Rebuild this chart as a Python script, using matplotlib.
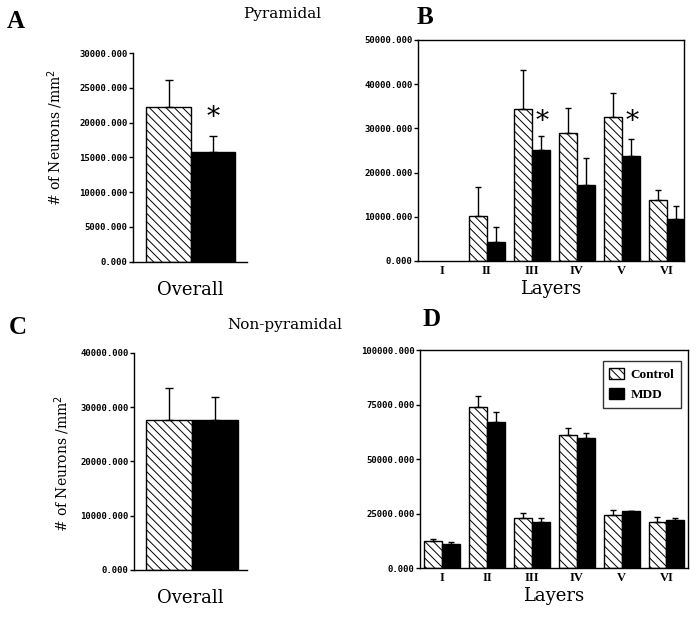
import numpy as np
import matplotlib.pyplot as plt
from matplotlib.ticker import FormatStrFormatter

# DATOS
capas = ['I', 'II', 'III', 'IV', 'V', 'VI']

# A: piramidales, total
pir_total_ctrl = 22200
pir_total_ctrl_err = 3900
pir_total_mdd = 15700
pir_total_mdd_err = 2400

# B: piramidales por capa
pir_ctrl = [0, 10200, 34400, 29000, 32500, 13700]
pir_ctrl_err = [0, 6600, 8800, 5700, 5400, 2400]
pir_mdd = [0, 4200, 25100, 17200, 23800, 9500]
pir_mdd_err = [0, 3600, 3200, 6200, 3700, 3000]

# C: no piramidales, total
nopir_total_ctrl = 27600
nopir_total_ctrl_err = 5900
nopir_total_mdd = 27600
nopir_total_mdd_err = 4300

# D: no piramidales por capa
nopir_ctrl = [12500, 73700, 22900, 61200, 24400, 21100]
nopir_ctrl_err = [1100, 5400, 2600, 3200, 2200, 2300]
nopir_mdd = [11300, 67200, 21100, 59500, 26100, 22100]
nopir_mdd_err = [900, 4400, 1900, 2600, 300, 1100]

serif = 'DejaVu Serif'
mono = {'family': 'DejaVu Sans Mono', 'weight': 'bold', 'size': 6.5}

fig = plt.figure(figsize=(6.97, 6.17), dpi=100)
plt.rcParams['hatch.linewidth'] = 0.7


def ejes(ax, ymax, paso, caja):
    ax.set_ylim(0, ymax)
    ax.set_yticks(np.arange(0, ymax + 1, paso))
    ax.yaxis.set_major_formatter(FormatStrFormatter('%.3f'))
    for t in ax.get_yticklabels():
        t.set_fontfamily(mono['family'])
        t.set_fontweight(mono['weight'])
        t.set_fontsize(mono['size'])
    ax.tick_params(axis='y', length=3, width=1, pad=1)
    ax.tick_params(axis='x', length=0)
    for s in ax.spines.values():
        s.set_linewidth(1)
    if not caja:
        ax.spines['top'].set_visible(False)
        ax.spines['right'].set_visible(False)


def total(ax, c, ce, m, me, ymax, paso, xlim):
    ax.bar(-0.5, c, 1.0, color='white', edgecolor='black', hatch='\\\\\\\\', lw=1)
    ax.bar(0.5, m, 1.0, color='black', edgecolor='black', lw=1)
    ax.errorbar([-0.5, 0.5], [c, m], yerr=[[0, 0], [ce, me]], fmt='none',
                ecolor='black', elinewidth=1, capsize=3, capthick=1)
    ax.set_xlim(*xlim)
    ax.set_xticks([])
    ejes(ax, ymax, paso, False)
    ax.set_xlabel('Overall', family=serif, fontsize=13, labelpad=14)


def capas_plot(ax, c, ce, m, me, ymax, paso, xlim):
    x = np.arange(len(capas))
    c, ce, m, me = map(np.array, (c, ce, m, me))
    w = 0.4
    # capas sin datos (valor 0) no se dibujan
    k = c > 0
    ax.bar(x[k] - w/2, c[k], w, color='white', edgecolor='black', hatch='\\\\\\\\',
           lw=1, label='Control')
    ax.errorbar(x[k] - w/2, c[k], yerr=[np.zeros(k.sum()), ce[k]], fmt='none',
                ecolor='black', elinewidth=1, capsize=2.5, capthick=1)
    k = m > 0
    ax.bar(x[k] + w/2, m[k], w, color='black', edgecolor='black', lw=1, label='MDD')
    ax.errorbar(x[k] + w/2, m[k], yerr=[np.zeros(k.sum()), me[k]], fmt='none',
                ecolor='black', elinewidth=1, capsize=2.5, capthick=1)
    ax.set_xlim(*xlim)
    ax.set_xticks(x)
    ax.set_xticklabels(capas, family='Liberation Serif', fontweight='bold', fontsize=9)
    ax.tick_params(axis='x', pad=3)
    ejes(ax, ymax, paso, True)
    ax.set_xlabel('Layers', family=serif, fontsize=13, labelpad=2)
    return x, w


# Panel A
axA = fig.add_axes([0.191, 0.576, 0.163, 0.338])
total(axA, pir_total_ctrl, pir_total_ctrl_err, pir_total_mdd, pir_total_mdd_err,
      30000, 5000, (-1.30, 1.26))
axA.text(0.5, 20700, '*', family=serif, fontsize=19, ha='center', va='center')

# Panel B
axB = fig.add_axes([0.5997, 0.577, 0.3816, 0.3582])
x, w = capas_plot(axB, pir_ctrl, pir_ctrl_err, pir_mdd, pir_mdd_err,
                  50000, 10000, (-0.527, 5.384))
for i in [2, 4]:
    axB.text(x[i] + w/2 + 0.03, 31500, '*', family=serif, fontsize=19,
             ha='center', va='center')

# Panel C
axC = fig.add_axes([0.1923, 0.0762, 0.1617, 0.3522])
total(axC, nopir_total_ctrl, nopir_total_ctrl_err, nopir_total_mdd, nopir_total_mdd_err,
      40000, 10000, (-1.27, 1.19))

# Panel D
axD = fig.add_axes([0.6026, 0.0789, 0.3844, 0.3538])
capas_plot(axD, nopir_ctrl, nopir_ctrl_err, nopir_mdd, nopir_mdd_err,
           100000, 25000, (-0.50, 5.48))
leg = axD.legend(loc='upper right', bbox_to_anchor=(0.998, 0.98), frameon=True,
                 fancybox=False, edgecolor='black', handlelength=1.1, handleheight=1.0,
                 handletextpad=0.5, borderpad=0.5, labelspacing=0.5,
                 prop={'family': 'Liberation Serif', 'weight': 'bold', 'size': 9.5})
leg.get_frame().set_linewidth(1)

# Textos
yl = '# of Neurons /mm$^2$'
fig.text(55/697, 1 - 137/617, yl, family=serif, fontsize=10, rotation=90,
         ha='center', va='center')
fig.text(62/697, 1 - 463/617, yl, family=serif, fontsize=10, rotation=90,
         ha='center', va='center')
fig.text(282/697, 1 - 14/617, 'Pyramidal', family=serif, fontsize=11,
         ha='center', va='center')
fig.text(285/697, 1 - 325/617, 'Non-pyramidal', family=serif, fontsize=11,
         ha='center', va='center')
for letra, px, py in [('A', 16, 22), ('B', 425, 18), ('C', 18, 327), ('D', 432, 320)]:
    fig.text(px/697, 1 - py/617, letra, family='Liberation Serif', fontweight='bold',
             fontsize=18, ha='center', va='center')

plt.savefig('out.png', dpi=100)
